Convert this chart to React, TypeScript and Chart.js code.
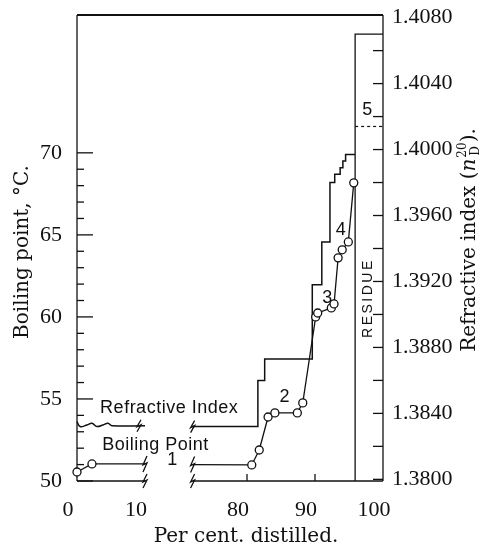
import React, { useEffect, useRef } from "react";
import { Chart, registerables } from "chart.js";

Chart.register(...registerables);

// ---- axis break: the per-cent axis runs 0..10 then 72..100
const GAP = 55;
const BREAK_LOW = 10;
const BREAK_HIGH = 72;
const toAxis = (p: number) => (p > 40 ? p - GAP : p);

// ---- tick labels
const xTickPct = [0, 10, 80, 90, 100];
const bpTicks = [50, 55, 60, 65, 70];
const riTicks = [1.38, 1.384, 1.388, 1.392, 1.396, 1.4, 1.404, 1.408];
const bpMinorTicks = [51, 52, 53, 54, 56, 57, 58, 59, 61, 62, 63, 64, 66, 67, 68, 69];
const riMinorTicks = [1.382, 1.386, 1.39, 1.394, 1.398, 1.402, 1.406];
const xMarkTicks = [80, 90];

// ---- boiling point (°C)
const bpPctLow = [0, 2.2, 10];
const bpTempLow = [50.55, 51.04, 51.04];
const bpMarkLow = [true, true, false];
const bpPctHigh = [72, 80.7, 81.8, 83.1, 84.1, 87.4, 88.2, 90.1, 90.4, 92.4, 92.8, 93.4, 94.0, 94.9, 95.7];
const bpTempHigh = [51.0, 50.98, 51.89, 53.9, 54.15, 54.15, 54.76, 60.0, 60.24, 60.55, 60.79, 63.6, 64.09, 64.57, 68.17];
const bpMarkHigh = [false, true, true, true, true, true, true, true, true, true, true, true, true, true, true];

// ---- refractive index (n20D)
const riPctLow = [0, 0.44, 1.47, 2.2, 2.94, 3.82, 4.56, 5.15, 10];
const riLow = [1.3835, 1.3832, 1.3833, 1.3834, 1.3832, 1.3833, 1.3834, 1.38325, 1.38325];
const riPctHigh = [72, 81.6, 82.6, 89.6, 91.0, 92.2, 92.9, 93.7, 94.1, 94.5, 95.9];
const riHigh = [1.3832, 1.386, 1.3873, 1.3918, 1.3944, 1.398, 1.3985, 1.3989, 1.3993, 1.3997, 1.3997];
const residuePct = [95.9, 95.9, 100];
const residueRI = [1.3799, 1.407, 1.407];
const frac5Pct = [95.9, 100];
const frac5RI = [1.4014, 1.4014];

const BP_MIN = 50;
const BP_MAX = 78.4;
const RI_MIN = 1.3799;
const RI_MAX = 1.40816;

const INK = "#111";
const SERIF_TITLE = '20px "DejaVu Serif"';
const LETTER = '18px "Liberation Sans"';

const NOTES = [
  { text: "Refractive Index", pct: 3.4, temp: 54.14, align: "left" },
  { text: "Boiling Point", pct: 3.7, temp: 51.89, align: "left" },
  { text: "1", pct: 14.0, temp: 50.97, align: "center" },
  { text: "2", pct: 85.5, temp: 54.81, align: "center" },
  { text: "3", pct: 91.8, temp: 60.85, align: "center" },
  { text: "4", pct: 93.8, temp: 65.0, align: "center" },
  { text: "5", pct: 97.7, temp: 72.3, align: "center" },
];

const pts = (xs: number[], ys: number[]) => xs.map((p, i) => ({ x: toAxis(p), y: ys[i] }));

const noPad = (s: any) => {
  s.paddingTop = 0;
  s.paddingBottom = 0;
  s.paddingLeft = 0;
  s.paddingRight = 0;
};

const decor = {
  id: "decor",
  beforeDatasetsDraw(chart: any) {
    const { ctx, chartArea: ca, scales } = chart;
    const X = (p: number) => scales.x.getPixelForValue(toAxis(p));
    const line = (x1: number, y1: number, x2: number, y2: number) => {
      ctx.beginPath();
      ctx.moveTo(x1, y1);
      ctx.lineTo(x2, y2);
      ctx.stroke();
    };
    ctx.save();
    ctx.strokeStyle = INK;
    ctx.lineWidth = 1.3;
    line(ca.left, ca.top, ca.left, ca.bottom);
    line(ca.right, ca.top, ca.right, ca.bottom);
    line(ca.left, ca.bottom, X(BREAK_LOW), ca.bottom);
    line(X(BREAK_HIGH), ca.bottom, ca.right, ca.bottom);
    ctx.lineWidth = 2;
    line(ca.left, ca.top, ca.right, ca.top);
    ctx.lineWidth = 1.3;
    bpTicks.forEach((v) => {
      const y = scales.y.getPixelForValue(v);
      line(ca.left, y, ca.left + 16, y);
    });
    bpMinorTicks.forEach((v) => {
      const y = scales.y.getPixelForValue(v);
      line(ca.left, y, ca.left + 7, y);
    });
    [...riTicks.filter((v) => v < 1.407), ...riMinorTicks].forEach((v) => {
      const y = scales.y2.getPixelForValue(v);
      line(ca.right, y, ca.right - 10, y);
    });
    xMarkTicks.forEach((p) => {
      const x = X(p);
      line(x, ca.bottom, x, ca.bottom - 7);
    });
    ctx.restore();
  },
  afterDatasetsDraw(chart: any) {
    const { ctx, chartArea: ca, scales } = chart;
    const X = (p: number) => scales.x.getPixelForValue(toAxis(p));
    const bolt = (x: number, y: number, h: number) => {
      ctx.beginPath();
      ctx.moveTo(x + 2, y - h);
      ctx.lineTo(x - 2, y + 1);
      ctx.lineTo(x + 2, y - 1);
      ctx.lineTo(x - 2, y + h);
      ctx.stroke();
    };
    ctx.save();
    ctx.strokeStyle = INK;
    ctx.lineWidth = 1.3;
    const bpLowEnd = scales.y.getPixelForValue(bpTempLow[bpTempLow.length - 1]);
    const bpHighStart = scales.y.getPixelForValue(bpTempHigh[0]);
    bolt(X(BREAK_LOW), bpLowEnd, 8);
    bolt(X(BREAK_LOW), ca.bottom, 7);
    bolt(X(BREAK_HIGH), bpHighStart, 8);
    bolt(X(BREAK_HIGH), ca.bottom, 7);
    bolt(X(BREAK_LOW) - 6, scales.y2.getPixelForValue(riLow[riLow.length - 1]), 6);
    bolt(X(BREAK_HIGH), scales.y2.getPixelForValue(riHigh[0]), 6);

    ctx.fillStyle = INK;
    ctx.textBaseline = "alphabetic";
    NOTES.forEach((n) => {
      ctx.font = LETTER;
      (ctx as any).letterSpacing = n.text.length > 1 ? "0.5px" : "0px";
      ctx.textAlign = n.align as CanvasTextAlign;
      ctx.fillText(n.text, X(n.pct), scales.y.getPixelForValue(n.temp));
    });
    // RESIDUE, rotated
    ctx.save();
    ctx.translate(X(97.6) + 5, scales.y.getPixelForValue(61.15));
    ctx.rotate(-Math.PI / 2);
    ctx.font = '14px "Liberation Sans"';
    (ctx as any).letterSpacing = "2.5px";
    ctx.textAlign = "center";
    ctx.fillText("RESIDUE", 0, 0);
    ctx.restore();
    ctx.restore();
  },
  afterDraw(chart: any) {
    const { ctx } = chart;
    ctx.save();
    ctx.fillStyle = INK;
    ctx.font = SERIF_TITLE;
    ctx.textBaseline = "alphabetic";
    ctx.textAlign = "center";
    ctx.fillText("Per cent. distilled.", 246, 542);

    ctx.save();
    ctx.translate(28, 252);
    ctx.rotate(-Math.PI / 2);
    ctx.fillText("Boiling point, °C.", 0, 0);
    ctx.restore();

    ctx.save();
    ctx.translate(475, 240);
    ctx.rotate(-Math.PI / 2);
    ctx.textAlign = "left";
    const small = '12px "DejaVu Serif"';
    const parts = [
      { t: "Refractive index (", f: SERIF_TITLE },
      { t: "n", f: "italic " + SERIF_TITLE },
    ];
    let w = 0;
    parts.forEach((p) => {
      ctx.font = p.f;
      w += ctx.measureText(p.t).width;
    });
    ctx.font = small;
    const wSup = Math.max(ctx.measureText("20").width, ctx.measureText("D").width + 2);
    ctx.font = SERIF_TITLE;
    const wEnd = ctx.measureText(").").width;
    const total = w + wSup + 1 + wEnd;
    let x = -total / 2;
    parts.forEach((p) => {
      ctx.font = p.f;
      ctx.fillText(p.t, x, 0);
      x += ctx.measureText(p.t).width;
    });
    ctx.font = small;
    ctx.fillText("20", x + 1, -9);
    ctx.fillText("D", x + 3, 4);
    x += wSup + 1;
    ctx.font = SERIF_TITLE;
    ctx.fillText(").", x, 0);
    ctx.restore();
    ctx.restore();
  },
};

export default function App() {
  const ref = useRef<HTMLCanvasElement | null>(null);
  useEffect(() => {
    document.body.style.margin = "0";
    const canvas = ref.current!;
    const bpStyle = {
      borderColor: INK,
      borderWidth: 1.3,
      pointBackgroundColor: "#fff",
      pointBorderColor: INK,
      pointBorderWidth: 1.3,
      pointHoverRadius: 4,
      yAxisID: "y",
      clip: false as any,
      fill: false,
    };
    const riStyle = {
      borderColor: INK,
      borderWidth: 1.5,
      pointRadius: 0,
      yAxisID: "y2",
      clip: false as any,
      fill: false,
    };
    const chart = new Chart(canvas, {
      type: "line",
      data: {
        datasets: [
          { ...bpStyle, label: "Boiling point 0-10", data: pts(bpPctLow, bpTempLow), pointRadius: bpMarkLow.map((m) => (m ? 4 : 0)) },
          { ...bpStyle, label: "Boiling point 72-100", data: pts(bpPctHigh, bpTempHigh), pointRadius: bpMarkHigh.map((m) => (m ? 4 : 0)) },
          { ...riStyle, label: "Refractive index 0-10", data: pts(riPctLow, riLow), tension: 0.4 },
          { ...riStyle, label: "Refractive index 72-96", data: pts(riPctHigh, riHigh), stepped: true },
          { ...riStyle, label: "Residue", data: pts(residuePct, residueRI), borderWidth: 1.3 },
          { ...riStyle, label: "Fraction 5", data: pts(frac5Pct, frac5RI), borderWidth: 1.2, borderDash: [3, 3] },
        ] as any,
      },
      options: {
        animation: false,
        responsive: false,
        devicePixelRatio: 1,
        events: [],
        layout: { padding: { top: 15, left: 0, right: 0, bottom: 0 } },
        plugins: { legend: { display: false }, tooltip: { enabled: false } },
        scales: {
          x: {
            type: "linear",
            min: 0,
            max: toAxis(100),
            grid: { display: false, drawTicks: false },
            border: { display: false },
            afterBuildTicks: (s: any) => {
              s.ticks = xTickPct.map((p) => ({ value: toAxis(p) }));
            },
            afterFit: (s: any) => {
              s.height = 66;
              noPad(s);
            },
            ticks: {
              color: INK,
              font: { family: "Liberation Serif", size: 22 },
              padding: 16,
              labelOffset: -9,
              maxRotation: 0,
              autoSkip: false,
              callback: (_v: any, i: number) => String(xTickPct[i]),
            },
          },
          y: {
            type: "linear",
            position: "left",
            min: BP_MIN,
            max: BP_MAX,
            grid: { display: false, drawTicks: false },
            border: { display: false },
            afterBuildTicks: (s: any) => {
              s.ticks = bpTicks.map((v) => ({ value: v }));
            },
            afterFit: (s: any) => {
              s.width = 77;
              noPad(s);
            },
            ticks: {
              color: INK,
              font: { family: "Liberation Serif", size: 22 },
              padding: 15,
              callback: (v: any) => String(v),
            },
          },
          y2: {
            type: "linear",
            position: "right",
            min: RI_MIN,
            max: RI_MAX,
            grid: { display: false, drawTicks: false },
            border: { display: false },
            afterBuildTicks: (s: any) => {
              s.ticks = riTicks.map((v) => ({ value: v }));
            },
            afterFit: (s: any) => {
              s.width = 97;
              noPad(s);
            },
            ticks: {
              color: INK,
              font: { family: "Liberation Serif", size: 22 },
              padding: 9,
              callback: (v: any) => Number(v).toFixed(4),
            },
          },
        },
      } as any,
      plugins: [decor],
    });
    return () => chart.destroy();
  }, []);
  return (
    <div style={{ width: 480, height: 547, background: "#fff" }}>
      <canvas ref={ref} width={480} height={547} style={{ display: "block" }} />
    </div>
  );
}
